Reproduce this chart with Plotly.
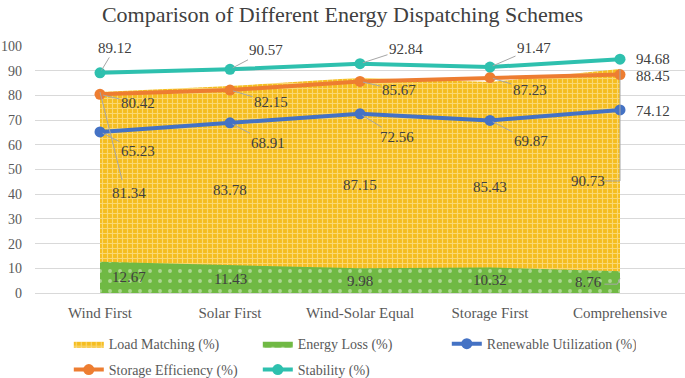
import plotly.graph_objects as go

categories = ["Wind First", "Solar First", "Wind-Solar Equal", "Storage First", "Comprehensive"]
load_matching = [81.34, 83.78, 87.15, 85.43, 90.73]
energy_loss = [12.67, 11.43, 9.98, 10.32, 8.76]
renewable_util = [65.23, 68.91, 72.56, 69.87, 74.12]
storage_eff = [80.42, 82.15, 85.67, 87.23, 88.45]
stability = [89.12, 90.57, 92.84, 91.47, 94.68]
y_ticks = list(range(0, 101, 10))

FONT = "Liberation Serif"
LABEL_COLOR = "#404040"
TICK_COLOR = "#595959"
LEADER = "#A6A6A6"

fig = go.Figure()

fig.add_trace(go.Scatter(
    x=categories, y=load_matching, name="Load Matching (%)", mode="lines",
    line=dict(width=0, color="#FFC000"), fill="tozeroy", fillcolor="#FFC000",
    fillpattern=dict(shape="+", bgcolor="#F5BD1F", fgcolor="#FFF1C8", size=5, solidity=0.4),
    legend="legend",
))
fig.add_trace(go.Scatter(
    x=categories, y=energy_loss, name="Energy Loss (%)", mode="lines",
    line=dict(width=0, color="#70AD47"), fill="tozeroy", fillcolor="#70AD47",
    fillpattern=dict(shape=".", bgcolor="#70B944", fgcolor="#E8F4DE", size=10, solidity=0.12),
    legend="legend",
))
line_series = [
    ("Renewable Utilization (%)", renewable_util, "#4472C4", "legend"),
    ("Storage Efficiency (%)", storage_eff, "#ED7D31", "legend2"),
    ("Stability (%)", stability, "#2EC0AE", "legend2"),
]
for name, vals, col, lg in line_series:
    fig.add_trace(go.Scatter(
        x=categories, y=vals, name=name, mode="lines+markers",
        line=dict(width=4, color=col), marker=dict(size=11, color=col), legend=lg,
    ))

# label offsets (pixels) for line-series callouts
offsets = {
    "stab": [(15, -25), (36, -19), (46, -15), (44, -19), (33, 0)],
    "stor": [(38, 9), (41, 12), (39, 9), (40, 12), (33, 1)],
    "ren": [(38, 19), (38, 20), (37, 23), (41, 21), (33, 1)],
}
anns = []
for key, vals in (("stab", stability), ("stor", storage_eff), ("ren", renewable_util)):
    for i, (c, v) in enumerate(zip(categories, vals)):
        ax, ay = offsets[key][i]
        last = i == len(categories) - 1
        anns.append(dict(
            x=c, y=v, xref="x", yref="y", text=f"{v:.2f}", showarrow=not last,
            ax=ax, ay=ay, axref="pixel", ayref="pixel", arrowhead=0, arrowwidth=1,
            arrowcolor=LEADER, standoff=3,
            xshift=ax if last else 0, yshift=-ay if last else 0,
            font=dict(family=FONT, size=15, color=LABEL_COLOR),
        ))

# area labels at the middle of each area
area_shift = [29, 0, 0, 0, -32]
for vals in (load_matching, energy_loss):
    for i, (c, v) in enumerate(zip(categories, vals)):
        anns.append(dict(
            x=c, y=v / 2, xref="x", yref="y", text=f"{v:.2f}", showarrow=False,
            xshift=area_shift[i], font=dict(family=FONT, size=15, color=LABEL_COLOR),
        ))

shapes = [
    # leader Wind First load-matching label -> point
    dict(type="line", xref="x", yref="y", x0=0, y0=load_matching[0], x1=0.17,
         y1=load_matching[0] / 2 + 5, line=dict(color=LEADER, width=1)),
    # elbow leader Comprehensive load-matching label
    dict(type="line", xref="x", yref="y", x0=3.88, y0=load_matching[4] / 2, x1=4,
         y1=load_matching[4] / 2, line=dict(color=LEADER, width=1)),
    dict(type="line", xref="x", yref="y", x0=4, y0=load_matching[4] / 2, x1=4,
         y1=load_matching[4], line=dict(color=LEADER, width=1)),
    # elbow leader Comprehensive energy-loss label
    dict(type="line", xref="x", yref="y", x0=3.88, y0=energy_loss[4] / 2 - 0.8, x1=3.98,
         y1=energy_loss[4] / 2 - 0.8, line=dict(color=LEADER, width=1)),
    dict(type="line", xref="x", yref="y", x0=3.98, y0=energy_loss[4] / 2 - 0.8, x1=4,
         y1=energy_loss[4] / 2 + 1.5, line=dict(color=LEADER, width=1)),
]

legend_style = dict(orientation="h", x=0.052, xanchor="left", yanchor="top",
                    entrywidth=144, entrywidthmode="pixels", bgcolor="rgba(0,0,0,0)",
                    font=dict(family=FONT, size=14, color=TICK_COLOR), traceorder="normal")

fig.update_layout(
    annotations=anns, shapes=shapes,
    width=685, height=378,
    margin=dict(l=35, r=0, t=46, b=85, autoexpand=False),
    paper_bgcolor="white", plot_bgcolor="white",
    title=dict(text="Comparison of Different Energy Dispatching Schemes", x=0.5, xanchor="center",
               y=1 - 14 / 378, yanchor="middle", xref="container", yref="container",
               font=dict(family=FONT, size=22, color="#404040")),
    font=dict(family=FONT, color=TICK_COLOR),
    showlegend=True,
    legend=dict(legend_style, y=-0.142),
    legend2=dict(legend_style, y=-0.247),
    xaxis=dict(type="category", range=[-0.5, 4.5], showgrid=False, showline=True,
               linecolor="#D9D9D9", linewidth=1, ticks="", ticklabelstandoff=6,
               tickfont=dict(family=FONT, size=15, color=TICK_COLOR)),
    yaxis=dict(range=[0, 100], tickvals=y_ticks, showgrid=True, gridcolor="#D9D9D9", gridwidth=1,
               zeroline=False, ticks="", ticklabelstandoff=12,
               tickfont=dict(family=FONT, size=14, color=TICK_COLOR)),
)

fig.write_html("out.html", config={"displayModeBar": False},
               post_script="document.body.style.margin='0px';")
